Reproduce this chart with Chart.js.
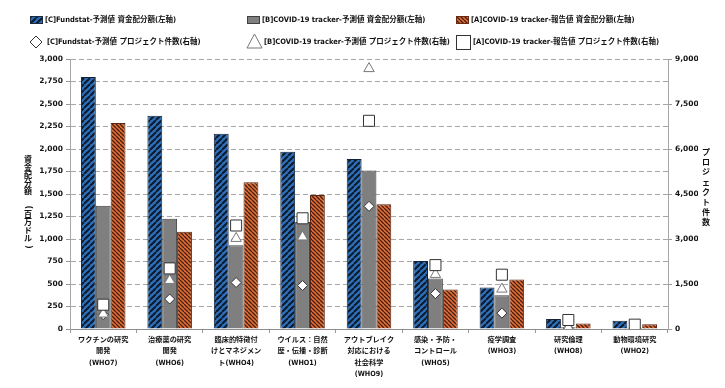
<!DOCTYPE html>
<html>
<head>
<meta charset="utf-8">
<script src="https://cdn.jsdelivr.net/npm/chart.js@4.4.0/dist/chart.umd.min.js"></script>
<style>
  html, body { margin: 0; padding: 0; background: #fff; }
  #wrap { position: relative; width: 725px; height: 388px; }
</style>
</head>
<body>
<div id="wrap"><canvas id="chart" width="725" height="388"></canvas></div>
<script>
// データ (左軸: 百万ドル, 右軸: 件数)
const categories = [
  ['ワクチンの研究', '開発', '(WHO7)'],
  ['治療薬の研究', '開発', '(WHO6)'],
  ['臨床的特徴付', 'けとマネジメン', 'ト(WHO4)'],
  ['ウイルス：自然', '歴・伝播・診断', '(WHO1)'],
  ['アウトブレイク', '対応における', '社会科学', '(WHO9)'],
  ['感染・予防・', 'コントロール', '(WHO5)'],
  ['疫学調査', '(WHO3)'],
  ['研究倫理', '(WHO8)'],
  ['動物環境研究', '(WHO2)']
];
const fundC = [2800, 2370, 2170, 1970, 1890, 755, 460, 110, 92];
const fundB = [1370, 1225, 930, 1190, 1760, 560, 375, 20, 15];
const fundA = [2290, 1080, 1630, 1490, 1385, 440, 550, 60, 52];
const projC = [480, 1000, 1550, 1450, 4090, 1180, 530, 30, 20];
const projB = [500, 1620, 3020, 3070, 8680, 1820, 1330, 50, 30];
const projA = [810, 2020, 3450, 3690, 6940, 2130, 1810, 300, 145];
const leftTicks = { min: 0, max: 3000, step: 250 };
const rightTicks = { min: 0, max: 9000, step: 1500 };

const labels = {
  fundC: '[C]Fundstat-予測値 資金配分額(左軸)',
  fundB: '[B]COVID-19 tracker-予測値 資金配分額(左軸)',
  fundA: '[A]COVID-19 tracker-報告値 資金配分額(左軸)',
  projC: '[C]Fundstat-予測値 プロジェクト件数(右軸)',
  projB: '[B]COVID-19 tracker-予測値 プロジェクト件数(右軸)',
  projA: '[A]COVID-19 tracker-報告値 プロジェクト件数(右軸)'
};

const FONT = '"DejaVu Sans", "Noto Sans CJK JP", sans-serif';
const FONT_NARROW = '"DejaVu Sans Condensed", "Noto Sans CJK JP", sans-serif';

// 斜線パターン
function makePattern(size, bg, fg, lw, dir) {
  const c = document.createElement('canvas');
  c.width = size; c.height = size;
  const g = c.getContext('2d');
  g.fillStyle = bg;
  g.fillRect(0, 0, size, size);
  g.strokeStyle = fg;
  g.lineWidth = lw;
  g.beginPath();
  for (let k = -1; k <= 1; k++) {
    if (dir === '/') {
      g.moveTo(k * size, size);
      g.lineTo(k * size + size, 0);
    } else {
      g.moveTo(k * size, 0);
      g.lineTo(k * size + size, size);
    }
  }
  g.stroke();
  return g.createPattern(c, 'repeat');
}

const ctx = document.getElementById('chart').getContext('2d');
const bluePat = makePattern(6, '#2e6fba', '#0d1a2b', 2, '/');
const redPat = makePattern(4, '#e0703a', '#4a1e0c', 1.3, '\\');

// 凡例（2段3列）
const legendItems = [
  { text: labels.fundC, kind: 'box', fill: bluePat, stroke: '#1a2a40', x: 30, y: 20 },
  { text: labels.fundB, kind: 'box', fill: '#808080', stroke: '#404040', x: 247, y: 20 },
  { text: labels.fundA, kind: 'box', fill: redPat, stroke: '#6a2a10', x: 456, y: 20 },
  { text: labels.projC, kind: 'diamond', x: 30, y: 42 },
  { text: labels.projB, kind: 'triangle', x: 247, y: 42 },
  { text: labels.projA, kind: 'square', x: 456, y: 42 }
];

const customLegend = {
  id: 'customLegend',
  afterDraw(chart) {
    const c = chart.ctx;
    c.save();
    c.font = 'bold 7.5px ' + FONT_NARROW;
    c.textBaseline = 'middle';
    c.fillStyle = '#111';
    legendItems.forEach(it => {
      c.lineWidth = 1;
      if (it.kind === 'box') {
        c.fillStyle = it.fill;
        c.fillRect(it.x, it.y - 4, 13, 8);
        c.strokeStyle = it.stroke;
        c.strokeRect(it.x + 0.5, it.y - 3.5, 12, 7);
      } else if (it.kind === 'diamond') {
        c.strokeStyle = '#333';
        c.beginPath();
        c.moveTo(it.x + 6, it.y - 6);
        c.lineTo(it.x + 12, it.y);
        c.lineTo(it.x + 6, it.y + 6);
        c.lineTo(it.x, it.y);
        c.closePath();
        c.stroke();
      } else if (it.kind === 'triangle') {
        c.strokeStyle = '#777';
        c.beginPath();
        c.moveTo(it.x + 7.5, it.y - 8);
        c.lineTo(it.x + 15, it.y + 6);
        c.lineTo(it.x, it.y + 6);
        c.closePath();
        c.stroke();
      } else {
        c.strokeStyle = '#333';
        c.strokeRect(it.x + 0.5, it.y - 6.5, 14, 14);
      }
      c.fillStyle = '#111';
      const tx = it.kind === 'box' ? it.x + 15 : it.x + 17;
      c.fillText(it.text, tx, it.y);
    });
    c.restore();
  }
};

// 縦書きの軸タイトル
function drawVertical(c, chars, x, y0, step) {
  chars.forEach((ch, i) => {
    const y = y0 + i * step;
    if (ch === '(' || ch === ')') {
      c.save();
      c.translate(x, y);
      c.rotate(Math.PI / 2);
      c.fillText(ch, 0, 0);
      c.restore();
    } else {
      c.fillText(ch, x, y);
    }
  });
}

const axisTitles = {
  id: 'axisTitles',
  afterDraw(chart) {
    const c = chart.ctx;
    c.save();
    c.font = 'bold 8px ' + FONT;
    c.fillStyle = '#111';
    c.textAlign = 'center';
    c.textBaseline = 'middle';
    drawVertical(c, ['資', '金', '配', '分', '額', ' ', '(', '百', '万', 'ド', 'ル', ')'], 28, 160, 7.9);
    drawVertical(c, ['プ', 'ロ', 'ジ', 'ェ', 'ク', 'ト', '件', '数'], 706, 153, 10);
    c.restore();
  }
};

const tickFont = { family: FONT, size: 7.5, weight: 'bold' };

new Chart(ctx, {
  type: 'bar',
  data: {
    labels: categories,
    datasets: [
      { type: 'bar', label: labels.fundC, data: fundC, yAxisID: 'y', backgroundColor: bluePat,
        borderColor: '#13233a', borderWidth: 1, order: 5 },
      { type: 'bar', label: labels.fundB, data: fundB, yAxisID: 'y', backgroundColor: '#7f7f7f',
        borderColor: '#3f3f3f', borderWidth: 1, order: 5 },
      { type: 'bar', label: labels.fundA, data: fundA, yAxisID: 'y', backgroundColor: redPat,
        borderColor: '#5a2410', borderWidth: 1, order: 5 },
      { type: 'line', label: labels.projC, data: projC, yAxisID: 'y1', showLine: false,
        pointStyle: 'rectRot', pointRadius: 5, pointBackgroundColor: '#fff',
        pointBorderColor: '#333', pointBorderWidth: 1, order: 2 },
      { type: 'line', label: labels.projB, data: projB, yAxisID: 'y1', showLine: false,
        pointStyle: 'triangle', pointRadius: 6, pointBackgroundColor: '#fff',
        pointBorderColor: '#777', pointBorderWidth: 1, order: 1 },
      { type: 'line', label: labels.projA, data: projA, yAxisID: 'y1', showLine: false,
        pointStyle: 'rect', pointRadius: 7.8, pointBackgroundColor: '#fff',
        pointBorderColor: '#333', pointBorderWidth: 1, order: 0 }
    ]
  },
  options: {
    responsive: false,
    animation: false,
    devicePixelRatio: 1,
    layout: { padding: { left: 40, right: 27, top: 59, bottom: 0 } },
    datasets: { bar: { categoryPercentage: 0.67, barPercentage: 1.0 } },
    plugins: {
      legend: { display: false },
      tooltip: { enabled: false }
    },
    scales: {
      x: {
        afterFit: s => { s.height = 59; },
        grid: { display: true, drawOnChartArea: false, drawTicks: true, tickLength: 4, color: '#999', offset: true },
        border: { display: true, color: '#8c8c8c' },
        ticks: { font: { family: FONT_NARROW, size: 7.2, weight: 'bold', lineHeight: 1.6 }, color: '#111',
          padding: 1, maxRotation: 0, autoSkip: false }
      },
      y: {
        position: 'left',
        min: leftTicks.min, max: leftTicks.max,
        afterFit: s => { s.width = 30; },
        ticks: { stepSize: leftTicks.step, font: tickFont, color: '#111', padding: 3 },
        grid: { color: '#a6a6a6', tickBorderDash: [], tickLength: 4, tickColor: '#999' },
        border: { display: true, color: '#a6a6a6', dash: [5, 3] }
      },
      y1: {
        position: 'right',
        min: rightTicks.min, max: rightTicks.max,
        afterFit: s => { s.width = 30; },
        ticks: { stepSize: rightTicks.step, font: tickFont, color: '#111', padding: 3 },
        grid: { drawOnChartArea: false, tickLength: 4, color: '#999' },
        border: { display: true, color: '#a6a6a6' }
      }
    }
  },
  plugins: [customLegend, axisTitles]
});
</script>
</body>
</html>
